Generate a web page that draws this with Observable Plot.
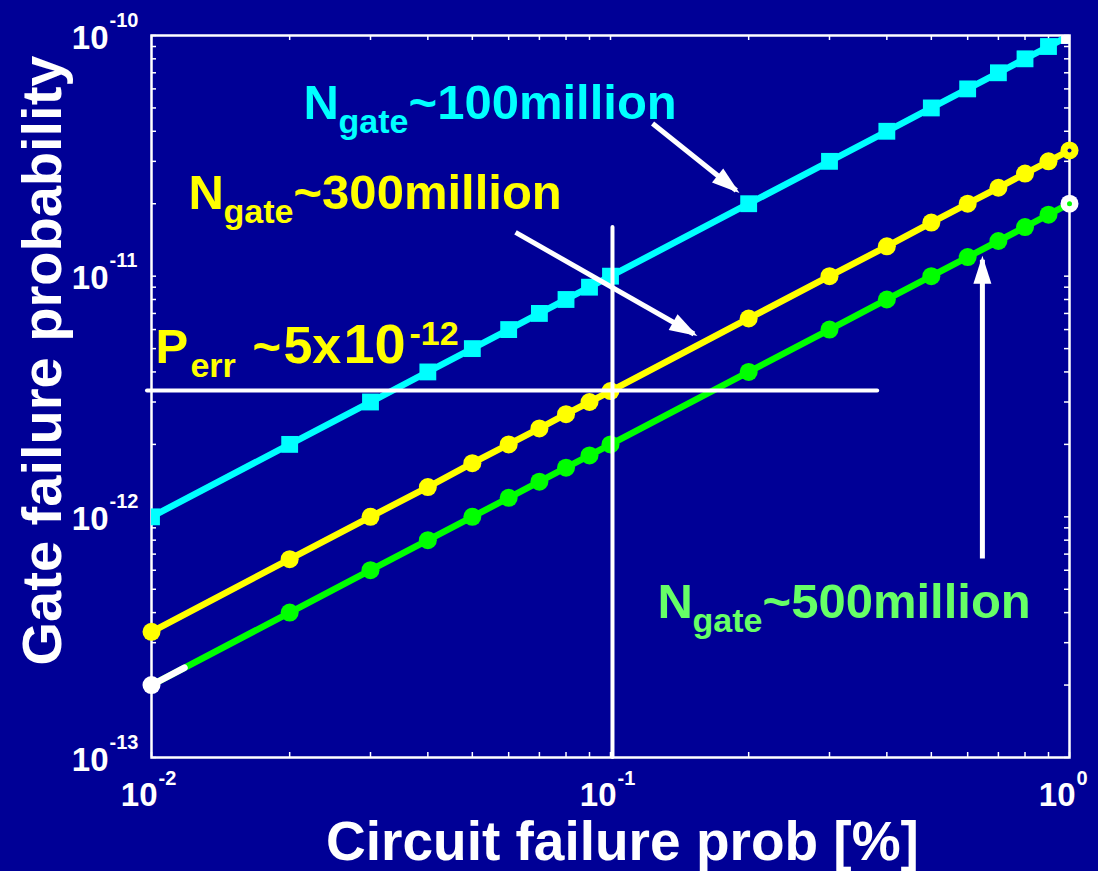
<!DOCTYPE html>
<html>
<head>
<meta charset="utf-8">
<script src="https://cdn.jsdelivr.net/npm/d3@7"></script>
<script src="https://cdn.jsdelivr.net/npm/@observablehq/plot@0.6"></script>
<style>
  html, body { margin: 0; padding: 0; background: #000096; }
  #chart svg { display: block; }
</style>
</head>
<body>
<div id="chart"></div>
<script>
// Circuit failure probability [%] at each computed point
const circuitFailure = [0.01, 0.02, 0.03, 0.04, 0.05, 0.06, 0.07, 0.08, 0.09, 0.1,
                        0.2, 0.3, 0.4, 0.5, 0.6, 0.7, 0.8, 0.9, 1.0];

// Required gate failure probability for each gate count
const gate100M = [1e-12, 2e-12, 3e-12, 4e-12, 5e-12, 6e-12, 7e-12, 8e-12, 9e-12, 1e-11,
                  2e-11, 3e-11, 4e-11, 5e-11, 6e-11, 7e-11, 8e-11, 9e-11, 1e-10];
const gate300M = [3.33e-13, 6.67e-13, 1.0e-12, 1.33e-12, 1.67e-12, 2.0e-12, 2.33e-12, 2.67e-12, 3.0e-12, 3.33e-12,
                  6.67e-12, 1.0e-11, 1.33e-11, 1.67e-11, 2.0e-11, 2.33e-11, 2.67e-11, 3.0e-11, 3.33e-11];
const gate500M = [2e-13, 4e-13, 6e-13, 8e-13, 1.0e-12, 1.2e-12, 1.4e-12, 1.6e-12, 1.8e-12, 2.0e-12,
                  4e-12, 6e-12, 8e-12, 1.0e-11, 1.2e-11, 1.4e-11, 1.6e-11, 1.8e-11, 2.0e-11];

// Short white trace at the start of the 500 million curve
const traceX = [0.01, 0.0118];
const traceY = [2e-13, 2.36e-13];

// Decade tick labels (mantissa "10" with exponent)
const xDecades = [0.01, 0.1, 1];
const xExponents = ["-2", "-1", "0"];
const yDecades = [1e-13, 1e-12, 1e-11, 1e-10];
const yExponents = ["-13", "-12", "-11", "-10"];

// Target error probability marked by the crosshair
const targetCircuit = [0.101];
const targetGate = [3.35e-12];

const BG = "#000096";
const FONT = "'Liberation Sans', Arial, Helvetica, sans-serif";
const W = 1098, H = 871;
const M = {top: 35, right: 29, bottom: 114, left: 151};
const frameW = W - M.left - M.right;
const frameH = H - M.top - M.bottom;

// log minor ticks (1..9 per decade)
const xMinor = [];
for (const d of [0.01, 0.1]) for (let k = 1; k <= 9; k++) xMinor.push(d * k);
xMinor.push(1);
const yMinor = [];
for (const d of [1e-13, 1e-12, 1e-11]) for (let k = 1; k <= 9; k++) yMinor.push(d * k);
yMinor.push(1e-10);

// filled triangular arrow head
function filledHead(color) {
  const m = d3.create("svg:marker")
    .attr("viewBox", "-7 -4 8 8")
    .attr("markerWidth", 8)
    .attr("markerHeight", 8)
    .attr("orient", "auto")
    .attr("fill", color)
    .attr("stroke", "none");
  m.append("path").attr("d", "M-4.8,-1.8L0.8,0L-4.8,1.8Z");
  return m.node();
}

// text made of pieces with their own size and offset (sub/superscripts)
function richLabel(x, y, color, pieces) {
  return pieces.map(p => Plot.text([0], {
    x: () => x, y: () => y,
    text: () => p.text,
    dx: p.dx, dy: p.dy || 0,
    fontSize: p.size,
    fontWeight: "bold",
    fontFamily: FONT,
    fill: color,
    textAnchor: "start",
    lineAnchor: "bottom"
  }));
}

function arrow(x1, y1, x2, y2) {
  return Plot.link([0], {
    x1: () => x1, y1: () => y1, x2: () => x2, y2: () => y2,
    stroke: "white", strokeWidth: 5, markerEnd: filledHead
  });
}

const last = circuitFailure.length - 1;

const chart = Plot.plot({
  width: W,
  height: H,
  marginTop: M.top,
  marginRight: M.right,
  marginBottom: M.bottom,
  marginLeft: M.left,
  style: {background: BG, color: "white", fontFamily: FONT},
  x: {type: "log", domain: [0.01, 1], axis: null},
  y: {type: "log", domain: [1e-13, 1e-10], axis: null},
  marks: [
    Plot.frame({stroke: "white", strokeWidth: 2.5}),

    // inward ticks on all four sides
    Plot.tickX(xMinor, {x: d => d, stroke: "white", strokeWidth: 1.5, insetTop: frameH - 5}),
    Plot.tickX(xMinor, {x: d => d, stroke: "white", strokeWidth: 1.5, insetBottom: frameH - 5}),
    Plot.tickY(yMinor, {y: d => d, stroke: "white", strokeWidth: 1.5, insetRight: frameW - 5}),
    Plot.tickY(yMinor, {y: d => d, stroke: "white", strokeWidth: 1.5, insetLeft: frameW - 5}),

    // x tick labels 10^n
    Plot.text(xDecades, {x: d => d, frameAnchor: "bottom", text: () => "10", dx: 6, dy: 48,
      textAnchor: "end", lineAnchor: "bottom", fontSize: 33, fontWeight: "bold", fill: "white"}),
    Plot.text(xDecades, {x: d => d, frameAnchor: "bottom", text: (d, i) => xExponents[i], dx: 7, dy: 27,
      textAnchor: "start", lineAnchor: "bottom", fontSize: 20, fontWeight: "bold", fill: "white"}),

    // y tick labels 10^n
    Plot.text(yDecades, {y: d => d, frameAnchor: "left", text: () => "10", dx: -43, dy: 13,
      textAnchor: "end", lineAnchor: "bottom", fontSize: 33, fontWeight: "bold", fill: "white"}),
    Plot.text(yDecades, {y: d => d, frameAnchor: "left", text: (d, i) => yExponents[i], dx: -42, dy: -9,
      textAnchor: "start", lineAnchor: "bottom", fontSize: 20, fontWeight: "bold", fill: "white"}),

    // axis titles
    Plot.text(["Circuit failure prob [%]"], {frameAnchor: "bottom", dx: 12, dy: 102,
      textAnchor: "middle", lineAnchor: "bottom", fontSize: 55, fontWeight: "bold", fill: "white"}),
    Plot.text(["Gate failure probability"], {frameAnchor: "left", dx: 60 - M.left, dy: -36, rotate: -90,
      textAnchor: "middle", lineAnchor: "bottom", fontSize: 56, fontWeight: "bold", fill: "white"}),

    // N_gate ~ 100 million
    Plot.line(circuitFailure, {x: d => d, y: (d, i) => gate100M[i], stroke: "#00ffff",
      strokeWidth: 6.5, strokeLinejoin: "round", clip: true}),
    Plot.dot(circuitFailure, {x: d => d, y: (d, i) => gate100M[i], symbol: "square", r: 9.5,
      fill: "#00ffff", clip: true}),
    Plot.dot([circuitFailure[last]], {x: d => d, y: () => gate100M[last], symbol: "square", r: 9.5,
      fill: "white", clip: true}),

    // N_gate ~ 300 million
    Plot.line(circuitFailure, {x: d => d, y: (d, i) => gate300M[i], stroke: "#ffff00",
      strokeWidth: 6.5, strokeLinejoin: "round"}),
    Plot.dot(circuitFailure, {x: d => d, y: (d, i) => gate300M[i], r: 9, fill: "#ffff00"}),
    Plot.dot([circuitFailure[last]], {x: d => d, y: () => gate300M[last], r: 2, fill: BG}),

    // N_gate ~ 500 million
    Plot.line(circuitFailure, {x: d => d, y: (d, i) => gate500M[i], stroke: "#00ff00",
      strokeWidth: 6.5, strokeLinejoin: "round"}),
    Plot.line(traceX, {x: d => d, y: (d, i) => traceY[i], stroke: "white", strokeWidth: 6.5}),
    Plot.dot(circuitFailure, {x: d => d, y: (d, i) => gate500M[i], r: 9,
      fill: (d, i) => (i === 0 || i === last) ? "white" : "#00ff00"}),
    Plot.dot([circuitFailure[last]], {x: d => d, y: () => gate500M[last], r: 2.5, fill: "#00ff00"}),

    // crosshair at the target operating point
    Plot.ruleX(targetCircuit, {x: d => d, y1: () => 1e-13, y2: () => 1.593e-11,
      stroke: "white", strokeWidth: 4, strokeLinecap: "round"}),
    Plot.ruleY(targetGate, {y: d => d, x1: () => 0.0098, x2: () => 0.382,
      stroke: "white", strokeWidth: 4, strokeLinecap: "round"}),

    // pointers from labels to curves
    arrow(0.1235, 4.31e-11, 0.188, 2.27e-11),
    arrow(0.0621, 1.52e-11, 0.1520, 5.75e-12),
    arrow(0.646, 6.72e-13, 0.646, 1.17e-11),

    // curve labels
    ...richLabel(0.02144, 4.48e-11, "#00ffff", [
      {text: "N", dx: 0, size: 49},
      {text: "gate", dx: 35, dy: 14, size: 34},
      {text: "~100million", dx: 105, size: 49}
    ]),
    ...richLabel(0.01204, 1.893e-11, "#ffff00", [
      {text: "N", dx: 0, size: 49},
      {text: "gate", dx: 35, dy: 14, size: 34},
      {text: "~300million", dx: 105, size: 49}
    ]),
    ...richLabel(0.1266, 3.785e-13, "#66ff66", [
      {text: "N", dx: 0, size: 49},
      {text: "gate", dx: 35, dy: 14, size: 34},
      {text: "~500million", dx: 105, size: 49}
    ]),
    ...richLabel(0.0102, 4.34e-12, "#ffff00", [
      {text: "P", dx: 0, size: 49},
      {text: "err", dx: 35, dy: 14, size: 34},
      {text: "~", dx: 97, size: 49},
      {text: "5x", dx: 128, size: 52},
      {text: "10", dx: 188, size: 56},
      {text: "-12", dx: 254, dy: -18, size: 34}
    ])
  ]
});

document.getElementById("chart").appendChild(chart);
</script>
</body>
</html>
